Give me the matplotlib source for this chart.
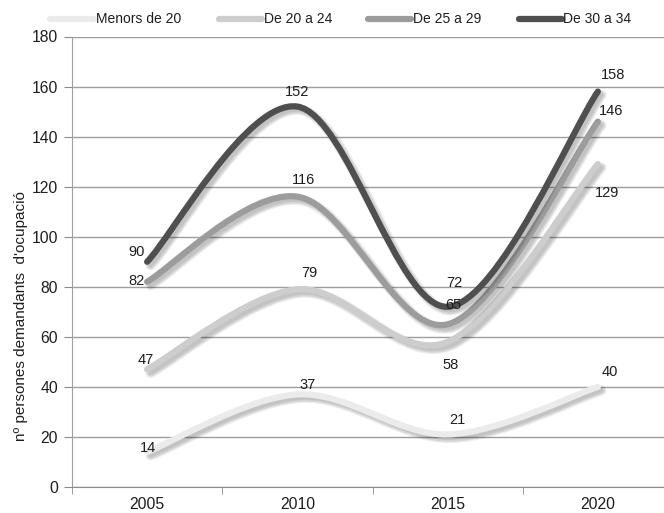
import matplotlib
matplotlib.use("Agg")
import matplotlib.pyplot as plt
from matplotlib.path import Path
from matplotlib.patches import PathPatch
from matplotlib.lines import Line2D
import matplotlib.patheffects as pe

plt.rcParams['font.family'] = ['Liberation Sans', 'DejaVu Sans']

years = ['2005', '2010', '2015', '2020']
series_names = ['Menors de 20', 'De 20 a 24', 'De 25 a 29', 'De 30 a 34']
menors_20 = [14, 37, 21, 40]
de_20_24 = [47, 79, 58, 129]
de_25_29 = [82, 116, 65, 146]
de_30_34 = [90, 152, 72, 158]
series_values = [menors_20, de_20_24, de_25_29, de_30_34]
colors = ['#ebebeb', '#cdcdcd', '#9c9c9c', '#4f4f4f']

# label offsets in pixels (dx, dy) for each series / point
label_offsets = [
    [(1, 4), (10, 9), (10, 14), (12, 15)],
    [(-1, 9), (12, 16), (3, -23), (9, -29)],
    [(-11, 1), (6, 17), (6, 19), (13, 11)],
    [(-11, 10), (0, 15), (7, 24), (15, 17)],
]

W, H = 664, 513
fig = plt.figure(figsize=(W / 100, H / 100), dpi=100)
ax = fig.add_axes([72 / W, 26 / H, (673 - 72) / W, (487 - 36.5) / H])


def smooth_path(xs, ys):
    n = len(xs)
    pts = list(zip(xs, ys))
    verts = [pts[0]]
    codes = [Path.MOVETO]
    for i in range(n - 1):
        p0 = pts[i - 1] if i > 0 else pts[i]
        p1 = pts[i]
        p2 = pts[i + 1]
        p3 = pts[i + 2] if i + 2 < n else pts[i + 1]
        c1 = (p1[0] + (p2[0] - p0[0]) / 6, p1[1] + (p2[1] - p0[1]) / 6)
        c2 = (p2[0] - (p3[0] - p1[0]) / 6, p2[1] - (p3[1] - p1[1]) / 6)
        verts += [c1, c2, p2]
        codes += [Path.CURVE4] * 3
    return Path(verts, codes)


LW = 4.5
shadow_fx = [
    pe.SimpleLineShadow(offset=(2.5, -2.5), shadow_color='black', alpha=0.07, linewidth=LW + 3),
    pe.SimpleLineShadow(offset=(2.5, -2.5), shadow_color='black', alpha=0.10, linewidth=LW + 1),
    pe.SimpleLineShadow(offset=(2.5, -2.5), shadow_color='black', alpha=0.08, linewidth=LW - 1.5),
    pe.Normal(),
]

xs = list(range(len(years)))
for vals, col in zip(series_values, colors):
    patch = PathPatch(smooth_path(xs, vals), fill=False, edgecolor=col,
                      linewidth=LW, capstyle='round', joinstyle='round', zorder=3)
    patch.set_path_effects(shadow_fx)
    ax.add_patch(patch)

for vals, offs in zip(series_values, label_offsets):
    for x, v, (dx, dy) in zip(xs, vals, offs):
        ax.annotate(str(v), xy=(x, v), xytext=(dx, dy), textcoords='offset pixels',
                    ha='center', va='center', fontsize=10.5, color='#1e1e1e', zorder=5)

ax.set_xlim(-0.5, 3.5)
ax.set_ylim(0, 180)
ax.set_yticks(range(0, 181, 20))
ax.set_xticks(xs)
ax.set_xticklabels(years)
ax.set_xticks([-0.5, 0.5, 1.5, 2.5, 3.5], minor=True)
ax.tick_params(axis='x', which='major', length=0, pad=7, labelsize=11.3, labelcolor='#1e1e1e')
ax.tick_params(axis='x', which='minor', length=5, color='#8c8c8c', direction='out')
ax.tick_params(axis='y', length=6, color='#8c8c8c', pad=4, labelsize=11.3, labelcolor='#1e1e1e')
ax.grid(axis='y', color='#9e9e9e', linewidth=1.0, zorder=0)
ax.set_axisbelow(True)
for s in ['top', 'right']:
    ax.spines[s].set_visible(False)
ax.spines['left'].set_color('#a0a0a0')
ax.spines['bottom'].set_color('#8c8c8c')
ax.spines['bottom'].set_zorder(4)

fig.text(21 / W, 1 - 316 / H, "nº persones demandants  d'ocupació", rotation=90,
         ha='center', va='center', fontsize=11, color='#1e1e1e')

# legend placed manually (sample start, sample end, text start) in pixels
legend_x = [(50, 94, 96), (219, 262, 264), (368, 411, 413), (519, 562, 563)]
legend_y = 1 - 19 / H
for name, col, (x0, x1, xt) in zip(series_names, colors, legend_x):
    fig.add_artist(Line2D([x0 / W, x1 / W], [legend_y, legend_y], color=col,
                          linewidth=LW, solid_capstyle='round', transform=fig.transFigure))
    fig.text(xt / W, legend_y, name, ha='left', va='center', fontsize=10,
             color='#1e1e1e')

fig.savefig('out.png', dpi=100)
